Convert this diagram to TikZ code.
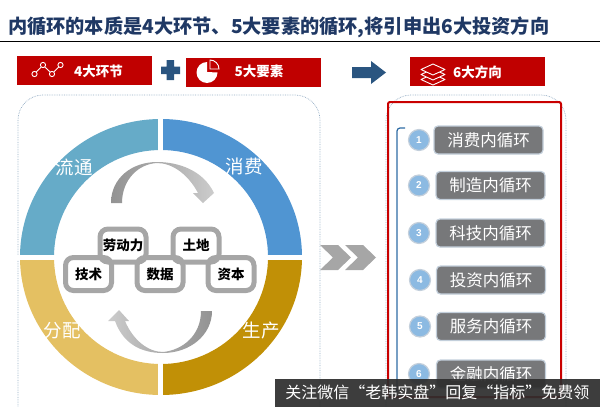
\documentclass[tikz,border=0pt]{standalone}
\usepackage{fontspec}
\setmainfont{Liberation Sans}
\newfontfamily\cjk{Noto Sans CJK SC}
\definecolor{hdrred}{HTML}{C00000}
\definecolor{navy}{HTML}{1F3864}
\definecolor{arrowblue}{HTML}{2A5580}
\definecolor{ringblue}{HTML}{5095D2}
\definecolor{ringgold}{HTML}{C19006}
\definecolor{ringyellow}{HTML}{E4C062}
\definecolor{ringteal}{HTML}{66ABC8}
\definecolor{framegrey}{HTML}{A6A6A6}
\definecolor{rowgrey}{HTML}{77787A}
\definecolor{rowedge}{HTML}{C3CFDB}
\definecolor{numblue}{HTML}{8CBAE2}
\definecolor{panelblue}{HTML}{93ACC4}
\definecolor{brackblue}{HTML}{2E6CA4}
\tikzset{
  hdrbox/.style={fill=hdrred, minimum width=135, minimum height=29, inner sep=0},
  hdrtext/.style={font=\cjk\bfseries\fontsize{13.5}{13.5}\selectfont, text=white, inner sep=0},
  ringtext/.style={font=\cjk\fontsize{18.5}{18.5}\selectfont, text=white, inner sep=0},
  keybox/.style={draw=framegrey, line width=5, rounded corners=8, minimum width=46, minimum height=33, inner sep=0,
    font=\cjk\bfseries\fontsize{13.5}{13.5}\selectfont},
  rowbox/.style={fill=rowgrey, draw=rowedge, line width=1.2, rounded corners=4, minimum width=109, minimum height=28, inner sep=0,
    font=\cjk\fontsize{16.5}{16.5}\selectfont, text=white},
  numdot/.style={circle, fill=numblue, draw=rowedge, line width=1.2, minimum size=21, inner sep=0,
    font=\bfseries\fontsize{10}{10}\selectfont, text=white},
  panel/.style={draw=panelblue, densely dotted, line width=.7, rounded corners=25},
}
\begin{document}
\begin{tikzpicture}[x=1pt,y=-1pt]
\useasboundingbox (0,0) rectangle (600,407);
% title
\node[anchor=west, inner sep=0, text=navy, font=\cjk\bfseries\fontsize{19.2}{19.2}\selectfont] (title) at (8,27)
  {内循环的本质是4大环节、5大要素的循环,将引申出6大投资方向};
\draw[line width=1.5] (0,41.5) -- (600,41.5);
% header row
\node[hdrbox] (hdrlinks) at (84.5,70.5) {};
\node[hdrbox] (hdrparts) at (253,72.5) {};
\node[hdrbox] (hdrways) at (477.5,71) {};
\node[hdrtext] (linkstext) at (98.5,71) {4大环节};
\node[hdrtext] (partstext) at (259,71) {5大要素};
\node[hdrtext] (waystext) at (477.5,72) {6大方向};
% icons
\draw[white, line width=.9] (34.5,74) circle (2.6) (43,65) circle (2.6) (52,74) circle (2.6) (60.5,65) circle (2.6);
\draw[white, line width=.9] (36.3,72) -- (41.2,67) (44.8,67) -- (50.2,72) (53.8,72) -- (58.7,67);
\fill[white] (207,72) -- (207,62) arc (-90:-360:10.5) -- cycle;
\draw[white, line width=.9] (210,59.5) -- (210,69) -- (219,69) arc (0:-90:9) -- cycle;
\foreach \y in {10,5,0}
  \draw[white, line width=.9, line join=round, fill=hdrred] (433,64+\y) -- (445,69.5+\y) -- (433,75+\y) -- (421,69.5+\y) -- cycle;
\fill[arrowblue] (161,66.5) rectangle (180,74) (166.5,60) rectangle (174,80);
\fill[arrowblue] (352,67) -- (371,67) -- (371,61) -- (386,72.5) -- (371,84) -- (371,78) -- (352,78) -- cycle;
% panels
\draw[panel] (18,420) -- (18,95) -- (320,95) -- (320,420);
\draw[panel] (386,420) -- (386,95) -- (566,95) -- (566,420);
% ring
\foreach \col/\a/\b in {ringblue/-90/0, ringgold/0/90, ringyellow/90/180, ringteal/180/270}
  \fill[\col, shift={(161,257)}] (\a:141 and 138) arc (\a:\b:141 and 138) -- (\b:107) arc (\b:\a:107) -- cycle;
\draw[white, line width=5] (160.5,112) -- (160.5,400);
\draw[white, line width=5] (15,257.5) -- (307,257.5);
\node[ringtext] (flowtext) at (74,167) {流通};
\node[ringtext] (usetext) at (244,166) {消费};
\node[ringtext] (sharetext) at (62,331) {分配};
\node[ringtext] (maketext) at (261,331) {生产};
% curved arrows
\shade[left color=gray!85, right color=gray!40, middle color=gray!65]
  (111,203) .. controls (111,178) and (132,162) .. (157,162) .. controls (178,162) and (203,170) .. (214,193)
  -- (203,203) -- (193,193) -- (198,193) .. controls (188,174) and (172,163) .. (157,163) .. controls (138,164) and (122,180) .. (122,203) -- cycle;
\shade[right color=gray!85, left color=gray!40, middle color=gray!65]
  (212,311) .. controls (212,335) and (190,353) .. (163,353) .. controls (140,353) and (123,343) .. (115,321)
  -- (108,321) -- (119,310) -- (129,321) -- (125,321) .. controls (133,340) and (148,352) .. (163,352) .. controls (183,350) and (201,335) .. (201,311) -- cycle;
% five keys
\node[keybox] (skill) at (88.5,274) {技术};
\node[keybox] (data) at (160,274) {数据};
\node[keybox] (capital) at (231,274) {资本};
\node[keybox] (labour) at (123,245.5) {劳动力};
\node[keybox] (land) at (196,245.5) {土地};
% chevrons
\foreach \x in {320,345}
  \fill[framegrey] (\x,245) -- (\x+18,245) -- (\x+31,257.5) -- (\x+18,270) -- (\x,270) -- (\x+13,257.5) -- cycle;
% six directions
\draw[hdrred!85!red, line width=2, rounded corners=2] (388,102) rectangle (561,397);
\draw[brackblue, line width=1.2, rounded corners=3] (405,128) -- (397,128) -- (397,392);
\foreach \n/\y/\t/\xd/\xb in {1/140/消费内循环/419/488.5, 2/185.5/制造内循环/419/490.5, 3/233/科技内循环/419/490.5, 4/280/投资内循环/420/491, 5/326.5/服务内循环/420/491, 6/374/金融内循环/419/491} {
  \node[numdot] (dot\n) at (\xd,\y) {\n};
  \node[rowbox] (row\n) at (\xb,\y) {\t};
}
% banner
\node[fill=black!82, fill opacity=.93, text opacity=1, minimum width=325, minimum height=28, inner sep=0, anchor=south east,
  text=white, font=\cjk\fontsize{16}{16}\selectfont] (banner) at (600,407) {关注微信“老韩实盘”回复“指标”免费领};
\end{tikzpicture}
\end{document}
